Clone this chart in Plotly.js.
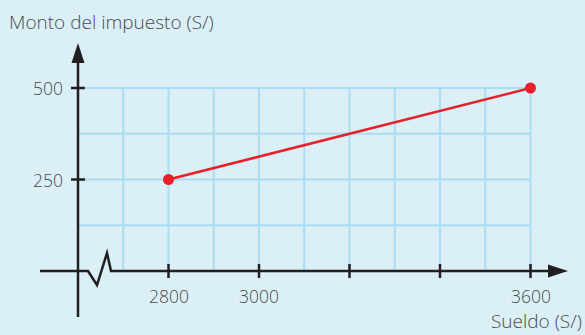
<!DOCTYPE html>
<html>
<head>
<meta charset="utf-8">
<script src="https://cdn.plot.ly/plotly-3.0.1.min.js"></script>
<style>html,body{margin:0;padding:0;background:#dbeff6;}#chart{width:585px;height:335px;}</style>
</head>
<body>
<div id="chart"></div>
<script>
// Data
const sueldo = [2800, 3600];
const impuesto = [250, 500];
const xTickVals = [2800, 3000, 3200, 3400, 3600];
const xTickLabels = ['2800', '3000', '', '', '3600'];
const yTickVals = [250, 500];
const yTickLabels = ['250', '500'];
const xGridVals = [2700, 2800, 2900, 3000, 3100, 3200, 3300, 3400, 3500, 3600];
const yGridVals = [125, 250, 375, 500];
const xTitle = 'Sueldo (S/)';
const yTitle = 'Monto del impuesto (S/)';

const X0 = 2600, Y0 = 0;           // origin of the (broken) axes
const pxX = 0.4525, pxY = 0.366;   // pixels per data unit
const xRange = [X0 - 78 / pxX, X0 + 507 / pxX];
const yRange = [Y0 - 64 / pxY, Y0 + 271 / pxY];
const dx = p => p / pxX, dy = p => p / pxY;

const gridColor = '#aadcf4';
const axisColor = '#231f20';
const textColor = '#4a4a4a';
const font = 'Open Sans, Noto Sans, sans-serif';

const shapes = [];
const xMax = Math.max(...xGridVals), yMax = Math.max(...yGridVals);
xGridVals.forEach(v => shapes.push({type:'line', xref:'x', yref:'y', x0:v, x1:v, y0:Y0, y1:yMax, line:{color:gridColor, width:2}, layer:'below'}));
yGridVals.forEach(v => shapes.push({type:'line', xref:'x', yref:'y', x0:X0, x1:xMax, y0:v, y1:v, line:{color:gridColor, width:2}, layer:'below'}));

// x axis: left stub, zigzag break, main line
const zx = [X0 + dx(10), X0 + dx(19), X0 + dx(29), X0 + dx(33)];
const zy = [Y0, Y0 - dy(14), Y0 + dy(18), Y0];
shapes.push({type:'path', xref:'x', yref:'y',
  path:`M ${X0 - dx(38)} ${Y0} L ${zx[0]} ${zy[0]} L ${zx[1]} ${zy[1]} L ${zx[2]} ${zy[2]} L ${zx[3]} ${zy[3]} L ${X0 + dx(472)} ${Y0}`,
  line:{color:axisColor, width:2.5}});
// y axis
shapes.push({type:'line', xref:'x', yref:'y', x0:X0, x1:X0, y0:Y0 - dy(46), y1:Y0 + dy(210), line:{color:axisColor, width:2.5}});
// arrow heads
shapes.push({type:'path', xref:'x', yref:'y', fillcolor:axisColor, line:{width:0},
  path:`M ${X0 + dx(490)} ${Y0} L ${X0 + dx(470)} ${Y0 + dy(6.5)} L ${X0 + dx(470)} ${Y0 - dy(6.5)} Z`});
shapes.push({type:'path', xref:'x', yref:'y', fillcolor:axisColor, line:{width:0},
  path:`M ${X0} ${Y0 + dy(228)} L ${X0 - dx(6.5)} ${Y0 + dy(208)} L ${X0 + dx(6.5)} ${Y0 + dy(208)} Z`});
// tick marks
xTickVals.forEach(v => shapes.push({type:'line', xref:'x', yref:'y', x0:v, x1:v, y0:Y0 - dy(7), y1:Y0 + dy(7), line:{color:axisColor, width:2.5}}));
yTickVals.forEach(v => shapes.push({type:'line', xref:'x', yref:'y', x0:X0 - dx(7), x1:X0 + dx(7), y0:v, y1:v, line:{color:axisColor, width:2.5}}));

const tickFont = {family:font, size:17.5, color:textColor, weight:300};
const titleFont = {family:font, size:19, color:textColor, weight:300};
const annotations = [];
xTickVals.forEach((v, i) => { if (xTickLabels[i]) annotations.push({xref:'x', yref:'y', x:v, y:Y0 - dy(25), text:xTickLabels[i], showarrow:false, xanchor:'center', yanchor:'middle', font:tickFont}); });
yTickVals.forEach((v, i) => annotations.push({xref:'x', yref:'y', x:X0 - dx(13), y:v, text:yTickLabels[i], showarrow:false, xanchor:'right', yanchor:'middle', font:tickFont}));
annotations.push({xref:'paper', yref:'paper', x:7/585, y:1 - 22/335, text:yTitle, showarrow:false, xanchor:'left', yanchor:'middle', font:titleFont});
annotations.push({xref:'paper', yref:'paper', x:583/585, y:0, text:xTitle, showarrow:false, xanchor:'right', yanchor:'bottom', borderpad:0, font:titleFont});

const trace = {x:sueldo, y:impuesto, mode:'lines+markers', type:'scatter',
  line:{color:'#e8202a', width:2.5}, marker:{color:'#e8202a', size:11}, hoverinfo:'skip'};

Plotly.newPlot('chart', [trace], {
  width:585, height:335, margin:{l:0, r:0, t:0, b:0},
  paper_bgcolor:'#dbeff6', plot_bgcolor:'#dbeff6', showlegend:false,
  xaxis:{range:xRange, visible:false, fixedrange:true},
  yaxis:{range:yRange, visible:false, fixedrange:true},
  shapes:shapes, annotations:annotations
}, {displayModeBar:false, staticPlot:true});
</script>
</body>
</html>
